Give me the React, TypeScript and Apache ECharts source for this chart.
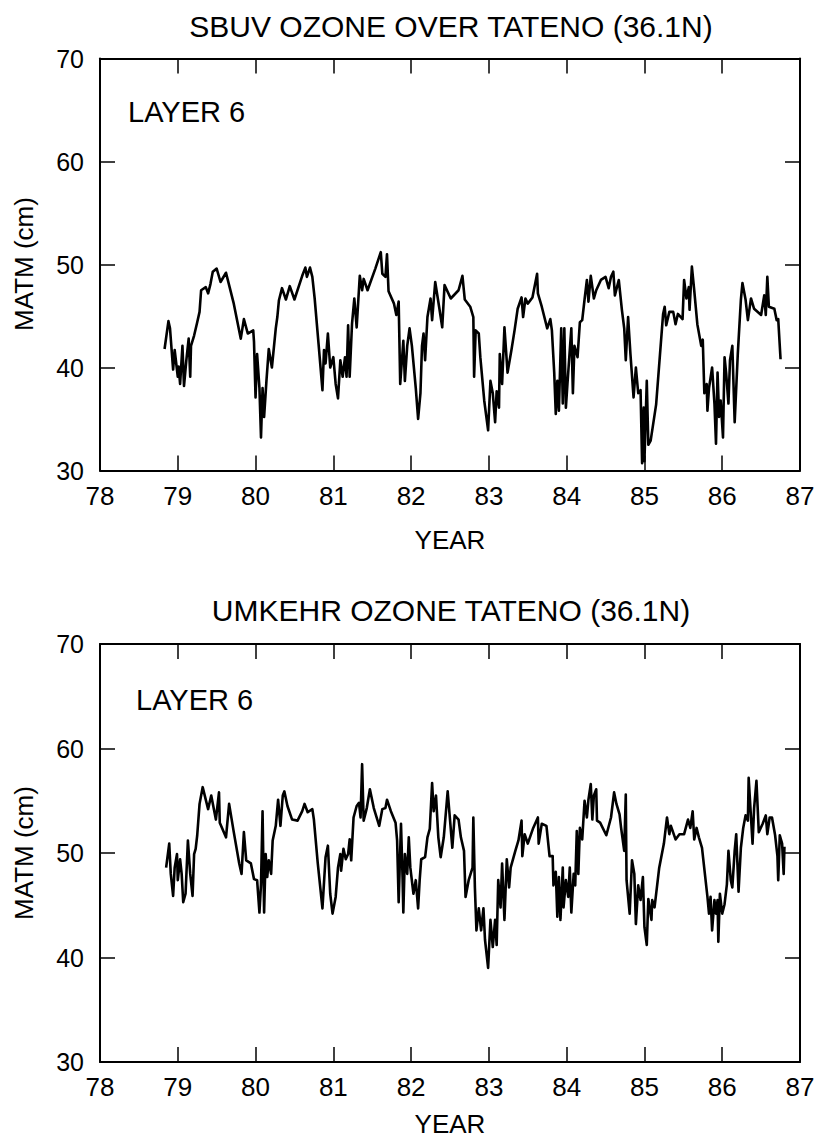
import React, { useEffect, useRef } from "react";
import * as echarts from "echarts";

const FONT = "'Liberation Sans', Arial, Helvetica, sans-serif";

const xTicks = [78, 79, 80, 81, 82, 83, 84, 85, 86, 87];
const yTicks = [30, 40, 50, 60, 70];

const sbuvYears = [
  78.83, 78.88, 78.9, 78.94, 78.96, 79.0, 79.01, 79.03, 79.06, 79.08, 79.11, 79.14, 79.16, 79.17, 79.21, 79.25,
  79.28, 79.3, 79.36, 79.39, 79.42, 79.45, 79.5, 79.55, 79.62, 79.66, 79.72, 79.81, 79.85, 79.9, 79.97, 79.98,
  80.0, 80.02, 80.05, 80.07, 80.09, 80.11, 80.14, 80.17, 80.21, 80.26, 80.28, 80.3, 80.34, 80.39, 80.44, 80.5,
  80.6, 80.64, 80.66, 80.7, 80.73, 80.76, 80.81, 80.86, 80.88, 80.9, 80.93, 80.96, 81.0, 81.03, 81.06, 81.09,
  81.12, 81.15, 81.17, 81.19, 81.21, 81.24, 81.27, 81.3, 81.34, 81.37, 81.39, 81.44, 81.54, 81.61, 81.63, 81.67,
  81.69, 81.71, 81.78, 81.81, 81.84, 81.86, 81.9, 81.92, 81.95, 81.98, 82.01, 82.06, 82.09, 82.12, 82.14, 82.16,
  82.18, 82.21, 82.25, 82.27, 82.31, 82.36, 82.4, 82.43, 82.51, 82.61, 82.66, 82.69, 82.76, 82.8, 82.81, 82.83,
  82.87, 82.89, 82.94, 82.99, 83.02, 83.05, 83.08, 83.1, 83.13, 83.14, 83.17, 83.2, 83.24, 83.29, 83.33, 83.37,
  83.42, 83.44, 83.47, 83.5, 83.56, 83.62, 83.63, 83.68, 83.75, 83.79, 83.81, 83.84, 83.86, 83.88, 83.9, 83.93,
  83.95, 83.97, 83.99, 84.01, 84.04, 84.06, 84.08, 84.1, 84.14, 84.17, 84.2, 84.23, 84.26, 84.28, 84.31, 84.35,
  84.38, 84.44, 84.5, 84.54, 84.57, 84.6, 84.62, 84.67, 84.71, 84.74, 84.76, 84.79, 84.82, 84.86, 84.89, 84.92,
  84.95, 84.97, 84.99, 85.0, 85.03, 85.05, 85.08, 85.15, 85.24, 85.26, 85.28, 85.32, 85.37, 85.4, 85.43, 85.49,
  85.51, 85.54, 85.57, 85.58, 85.61, 85.64, 85.68, 85.73, 85.75, 85.77, 85.8, 85.81, 85.83, 85.87, 85.9, 85.92,
  85.94, 85.96, 85.98, 86.01, 86.03, 86.05, 86.08, 86.1, 86.13, 86.16, 86.2, 86.24, 86.26, 86.3, 86.33, 86.37,
  86.41, 86.5, 86.54, 86.56, 86.58, 86.6, 86.67, 86.7, 86.72, 86.75,
];
const sbuvValues = [
  41.8, 44.5, 43.8, 39.8, 41.7, 39.1, 40.1, 38.4, 42.1, 38.2, 40.7, 42.8, 39.1, 42.1, 43.1, 44.4,
  45.4, 47.5, 47.8, 47.2, 48.1, 49.3, 49.6, 48.3, 49.2, 48.0, 46.2, 42.8, 44.7, 43.3, 43.6, 42.5,
  37.1, 41.3, 38.0, 33.2, 38.0, 35.2, 38.7, 41.8, 40.0, 43.8, 44.9, 46.5, 47.7, 46.6, 47.9, 46.6,
  48.9, 49.7, 48.8, 49.7, 48.8, 46.7, 42.3, 37.8, 41.7, 40.4, 43.3, 40.0, 41.0, 38.4, 37.0, 40.7,
  39.1, 41.0, 39.1, 44.1, 39.1, 44.2, 46.7, 43.9, 48.9, 47.5, 48.6, 47.5, 49.6, 51.2, 49.1, 48.8,
  51.0, 47.4, 46.2, 45.1, 46.4, 38.4, 42.6, 38.7, 42.1, 43.8, 42.1, 38.0, 35.0, 37.5, 42.1, 43.3,
  40.7, 44.9, 46.7, 44.6, 48.3, 45.9, 43.9, 48.0, 46.7, 47.5, 48.9, 46.6, 45.9, 44.9, 39.1, 43.6,
  43.3, 41.0, 36.8, 33.9, 38.7, 37.5, 34.7, 37.7, 36.1, 41.3, 38.4, 43.9, 39.5, 41.7, 43.6, 45.7,
  46.8, 44.9, 46.7, 46.2, 46.8, 49.1, 47.2, 45.9, 43.8, 44.7, 43.6, 39.5, 35.5, 38.7, 35.8, 43.8,
  36.5, 43.8, 36.1, 38.4, 41.7, 43.8, 37.5, 42.1, 41.0, 44.4, 44.6, 46.6, 48.5, 46.4, 48.9, 46.7,
  47.5, 48.5, 48.8, 47.7, 48.8, 49.3, 47.0, 48.5, 45.6, 43.8, 40.7, 44.9, 41.3, 37.1, 40.0, 37.5,
  37.8, 30.7, 36.1, 30.9, 38.7, 32.5, 32.9, 36.4, 45.2, 45.9, 44.1, 45.4, 45.4, 44.2, 45.2, 44.7,
  48.5, 46.7, 47.8, 45.6, 49.8, 47.5, 44.2, 42.1, 42.7, 37.5, 38.4, 35.8, 38.0, 40.0, 36.5, 32.6,
  39.5, 35.2, 36.8, 33.2, 41.0, 39.5, 36.5, 40.7, 42.1, 34.7, 41.3, 46.6, 48.2, 46.6, 44.6, 46.7,
  45.7, 45.1, 47.0, 45.1, 48.8, 45.9, 45.7, 44.6, 44.7, 40.8,
];

const umkehrYears = [
  78.85, 78.89, 78.91, 78.94, 78.96, 78.99, 79.0, 79.03, 79.05, 79.07, 79.1, 79.13, 79.16, 79.19, 79.21, 79.23,
  79.25, 79.28, 79.32, 79.39, 79.43, 79.49, 79.53, 79.54, 79.62, 79.66, 79.72, 79.79, 79.82, 79.85, 79.88, 79.94,
  79.98, 80.02, 80.05, 80.07, 80.09, 80.11, 80.13, 80.15, 80.17, 80.2, 80.22, 80.26, 80.29, 80.32, 80.35, 80.37,
  80.41, 80.47, 80.54, 80.6, 80.63, 80.67, 80.73, 80.75, 80.8, 80.86, 80.9, 80.93, 80.96, 80.99, 81.03, 81.06,
  81.09, 81.1, 81.13, 81.16, 81.19, 81.21, 81.23, 81.26, 81.3, 81.33, 81.35, 81.37, 81.39, 81.43, 81.47, 81.52,
  81.59, 81.63, 81.67, 81.69, 81.74, 81.8, 81.82, 81.84, 81.87, 81.89, 81.9, 81.92, 81.95, 81.97, 81.99, 82.03,
  82.06, 82.09, 82.11, 82.13, 82.18, 82.21, 82.24, 82.27, 82.29, 82.32, 82.35, 82.38, 82.42, 82.47, 82.53, 82.56,
  82.61, 82.64, 82.68, 82.7, 82.74, 82.79, 82.8, 82.82, 82.84, 82.87, 82.9, 82.93, 82.95, 82.99, 83.02, 83.05,
  83.08, 83.1, 83.12, 83.15, 83.17, 83.2, 83.23, 83.26, 83.28, 83.34, 83.38, 83.42, 83.43, 83.46, 83.5, 83.57,
  83.63, 83.64, 83.68, 83.74, 83.78, 83.82, 83.83, 83.86, 83.88, 83.9, 83.92, 83.95, 83.96, 83.99, 84.02, 84.04,
  84.06, 84.09, 84.11, 84.13, 84.15, 84.17, 84.2, 84.23, 84.26, 84.28, 84.31, 84.33, 84.35, 84.38, 84.39, 84.43,
  84.51, 84.57, 84.61, 84.64, 84.68, 84.7, 84.74, 84.76, 84.77, 84.81, 84.84, 84.87, 84.89, 84.92, 84.95, 84.98,
  85.0, 85.03, 85.05, 85.09, 85.1, 85.13, 85.19, 85.25, 85.29, 85.32, 85.34, 85.4, 85.45, 85.51, 85.56, 85.59,
  85.62, 85.64, 85.67, 85.7, 85.74, 85.81, 85.83, 85.85, 85.87, 85.9, 85.92, 85.94, 85.95, 85.97, 86.0, 86.03,
  86.06, 86.08, 86.11, 86.13, 86.16, 86.18, 86.21, 86.24, 86.27, 86.3, 86.33, 86.34, 86.37, 86.39, 86.41, 86.44,
  86.47, 86.52, 86.56, 86.58, 86.61, 86.64, 86.68, 86.71, 86.72, 86.74, 86.77, 86.79, 86.8,
];
const umkehrValues = [
  48.6, 50.9, 48.0, 45.9, 48.6, 49.9, 47.4, 49.4, 48.0, 45.3, 46.1, 51.2, 48.0, 45.9, 49.9, 50.4,
  51.7, 54.7, 56.3, 54.2, 55.5, 53.2, 55.8, 52.9, 51.5, 54.7, 52.0, 49.0, 48.0, 52.0, 49.3, 49.0,
  47.5, 47.4, 44.3, 47.0, 54.0, 44.3, 49.9, 47.7, 49.3, 48.0, 51.2, 52.6, 55.1, 52.6, 55.5, 55.9,
  54.5, 53.2, 53.1, 54.0, 54.7, 53.9, 54.2, 53.2, 49.0, 44.7, 49.6, 50.7, 46.1, 44.2, 45.8, 48.6,
  49.9, 48.3, 50.4, 49.4, 49.9, 51.3, 49.3, 53.4, 54.5, 54.8, 53.4, 58.5, 53.1, 54.3, 56.1, 54.3,
  52.6, 54.2, 54.3, 55.1, 54.0, 52.9, 51.2, 45.3, 52.8, 47.7, 44.3, 49.9, 48.0, 51.5, 48.6, 46.1,
  47.4, 44.7, 47.4, 49.4, 49.6, 51.5, 52.3, 56.7, 54.0, 55.5, 51.5, 49.6, 51.5, 55.9, 50.5, 53.6,
  53.2, 51.5, 50.2, 45.8, 47.4, 48.6, 53.4, 46.7, 42.6, 44.7, 42.6, 44.7, 41.7, 39.0, 43.6, 41.0,
  43.6, 41.2, 47.4, 44.8, 49.0, 43.6, 49.4, 46.7, 48.6, 50.2, 51.2, 53.1, 49.7, 51.8, 50.9, 52.4,
  53.4, 50.9, 52.8, 52.6, 49.7, 49.7, 46.9, 48.2, 43.9, 47.7, 43.6, 48.6, 44.8, 47.4, 45.8, 48.6,
  44.3, 48.0, 46.9, 52.1, 48.0, 52.4, 51.3, 55.0, 53.4, 55.1, 56.6, 53.2, 55.5, 56.1, 53.1, 52.9,
  51.7, 53.4, 55.8, 54.7, 53.7, 52.4, 50.2, 55.6, 47.4, 44.2, 49.3, 48.0, 43.2, 46.9, 45.5, 47.7,
  42.9, 41.2, 45.6, 43.6, 45.5, 44.8, 48.6, 50.9, 53.4, 51.8, 52.6, 51.3, 51.8, 51.8, 53.2, 52.4,
  54.0, 51.3, 52.4, 51.5, 50.5, 45.8, 44.2, 45.8, 42.6, 45.5, 44.2, 45.5, 41.5, 46.1, 44.2, 45.1,
  47.0, 50.2, 47.4, 46.7, 50.2, 51.8, 46.3, 50.5, 52.4, 53.6, 53.1, 57.2, 53.4, 50.9, 54.3, 56.9,
  52.0, 52.8, 53.6, 51.8, 53.4, 53.4, 51.7, 49.7, 47.4, 51.7, 50.9, 48.0, 50.6,
];

const titles = ["SBUV OZONE OVER TATENO (36.1N)", "UMKEHR OZONE TATENO (36.1N)"];
const layerLabel = "LAYER 6";
const xName = "YEAR";
const yName = "MATM (cm)";

const grids = [
  { left: 100, top: 58.5, width: 700, height: 412 },
  { left: 100, top: 644, width: 700, height: 418 },
];

export default function App() {
  const ref = useRef<HTMLDivElement>(null);
  useEffect(() => {
    if (!ref.current) return;
    const chart = echarts.init(ref.current, undefined, { renderer: "svg" });
    const xMin = xTicks[0];
    const xMax = xTicks[xTicks.length - 1];
    const yMin = yTicks[0];
    const yMax = yTicks[yTicks.length - 1];
    const lineStyle = { color: "#000", width: 2 };
    const tick = { show: true, inside: true, length: 15, lineStyle: { color: "#000", width: 1.5 } };
    const xAxes: any[] = [];
    const yAxes: any[] = [];
    grids.forEach((_, gi) => {
      xAxes.push({
        gridIndex: gi, type: "value", min: xMin, max: xMax, interval: 1, position: "bottom",
        axisLine: { show: true, lineStyle }, axisTick: tick,
        axisLabel: { show: true, fontSize: 26, color: "#000", fontFamily: FONT, margin: 12 },
        splitLine: { show: false },
      });
      xAxes.push({
        gridIndex: gi, type: "value", min: xMin, max: xMax, interval: 1, position: "top",
        axisLine: { show: true, lineStyle }, axisTick: tick,
        axisLabel: { show: false }, splitLine: { show: false },
      });
      yAxes.push({
        gridIndex: gi, type: "value", min: yMin, max: yMax, interval: 10, position: "left",
        axisLine: { show: true, lineStyle }, axisTick: tick,
        axisLabel: { show: true, fontSize: 25, color: "#000", fontFamily: FONT, margin: 16 },
        splitLine: { show: false },
      });
      yAxes.push({
        gridIndex: gi, type: "value", min: yMin, max: yMax, interval: 10, position: "right",
        axisLine: { show: true, lineStyle }, axisTick: tick,
        axisLabel: { show: false }, splitLine: { show: false },
      });
    });
    const mk = (xs: number[], vs: number[]) => xs.map((x, i) => [x, vs[i]]);
    const textStyle = (text: string, size: number, align: string) => ({
      text, fill: "#000", fontSize: size, fontFamily: FONT, textAlign: align, textVerticalAlign: "middle",
    });
    const seriesLine = { color: "#000", width: 2.6, join: "round" };
    chart.setOption({
      animation: false,
      backgroundColor: "#fff",
      grid: grids.map((g) => ({ ...g, containLabel: false })),
      xAxis: xAxes,
      yAxis: yAxes,
      series: [
        {
          type: "line", xAxisIndex: 0, yAxisIndex: 0, data: mk(sbuvYears, sbuvValues),
          showSymbol: false, symbol: "none", lineStyle: seriesLine, silent: true,
        },
        {
          type: "line", xAxisIndex: 2, yAxisIndex: 2, data: mk(umkehrYears, umkehrValues),
          showSymbol: false, symbol: "none", lineStyle: seriesLine, silent: true,
        },
      ],
      graphic: [
        { type: "text", x: 451, y: 26, style: textStyle(titles[0], 30, "center") },
        { type: "text", x: 451, y: 610, style: textStyle(titles[1], 30, "center") },
        { type: "text", x: 128, y: 112, style: textStyle(layerLabel, 29, "left") },
        { type: "text", x: 136, y: 700, style: textStyle(layerLabel, 29, "left") },
        { type: "text", x: 450, y: 540, style: textStyle(xName, 26, "center") },
        { type: "text", x: 450, y: 1124, style: textStyle(xName, 26, "center") },
        { type: "text", x: 24, y: 264, rotation: Math.PI / 2, style: textStyle(yName, 26, "center") },
        { type: "text", x: 24, y: 853, rotation: Math.PI / 2, style: textStyle(yName, 26, "center") },
      ],
    });
    return () => chart.dispose();
  }, []);
  return (
    <div
      ref={ref}
      style={{ position: "absolute", left: 0, top: 0, width: 818, height: 1143, background: "#fff" }}
    />
  );
}
